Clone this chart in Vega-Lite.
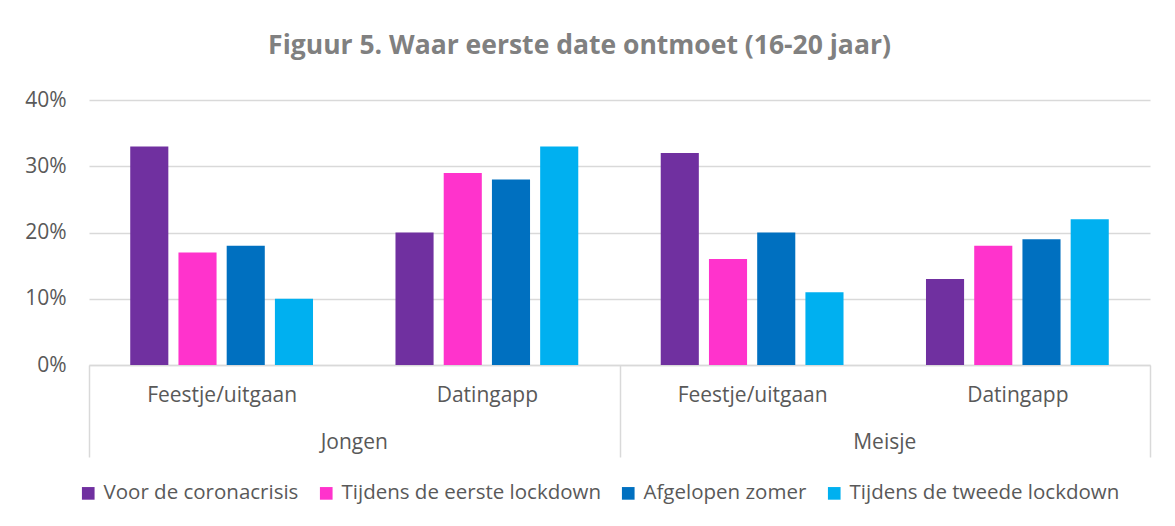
{
  "$schema": "https://vega.github.io/schema/vega-lite/v6.json",
  "width": 1061,
  "height": 265,
  "autosize": {"type": "none"},
  "padding": {"left": 89, "top": 100, "right": 25, "bottom": 161},
  "background": "white",
  "title": {
    "text": "Figuur 5. Waar eerste date ontmoet (16-20 jaar)",
    "fontSize": 26.5,
    "fontWeight": "bold",
    "color": "#808080",
    "font": "Open Sans",
    "anchor": "middle",
    "dx": -40,
    "offset": 30
  },
  "config": {
    "font": "Open Sans",
    "view": {"stroke": null}
  },
  "data": {
    "values": [
      {"group": "Jongen", "cat": "Feestje/uitgaan", "key": "Jongen|Feestje/uitgaan", "series": "Voor de coronacrisis", "value": 0.33},
      {"group": "Jongen", "cat": "Feestje/uitgaan", "key": "Jongen|Feestje/uitgaan", "series": "Tijdens de eerste lockdown", "value": 0.17},
      {"group": "Jongen", "cat": "Feestje/uitgaan", "key": "Jongen|Feestje/uitgaan", "series": "Afgelopen zomer", "value": 0.18},
      {"group": "Jongen", "cat": "Feestje/uitgaan", "key": "Jongen|Feestje/uitgaan", "series": "Tijdens de tweede lockdown", "value": 0.10},
      {"group": "Jongen", "cat": "Datingapp", "key": "Jongen|Datingapp", "series": "Voor de coronacrisis", "value": 0.20},
      {"group": "Jongen", "cat": "Datingapp", "key": "Jongen|Datingapp", "series": "Tijdens de eerste lockdown", "value": 0.29},
      {"group": "Jongen", "cat": "Datingapp", "key": "Jongen|Datingapp", "series": "Afgelopen zomer", "value": 0.28},
      {"group": "Jongen", "cat": "Datingapp", "key": "Jongen|Datingapp", "series": "Tijdens de tweede lockdown", "value": 0.33},
      {"group": "Meisje", "cat": "Feestje/uitgaan", "key": "Meisje|Feestje/uitgaan", "series": "Voor de coronacrisis", "value": 0.32},
      {"group": "Meisje", "cat": "Feestje/uitgaan", "key": "Meisje|Feestje/uitgaan", "series": "Tijdens de eerste lockdown", "value": 0.16},
      {"group": "Meisje", "cat": "Feestje/uitgaan", "key": "Meisje|Feestje/uitgaan", "series": "Afgelopen zomer", "value": 0.20},
      {"group": "Meisje", "cat": "Feestje/uitgaan", "key": "Meisje|Feestje/uitgaan", "series": "Tijdens de tweede lockdown", "value": 0.11},
      {"group": "Meisje", "cat": "Datingapp", "key": "Meisje|Datingapp", "series": "Voor de coronacrisis", "value": 0.13},
      {"group": "Meisje", "cat": "Datingapp", "key": "Meisje|Datingapp", "series": "Tijdens de eerste lockdown", "value": 0.18},
      {"group": "Meisje", "cat": "Datingapp", "key": "Meisje|Datingapp", "series": "Afgelopen zomer", "value": 0.19},
      {"group": "Meisje", "cat": "Datingapp", "key": "Meisje|Datingapp", "series": "Tijdens de tweede lockdown", "value": 0.22}
    ]
  },
  "layer": [
    {
      "mark": {"type": "bar"},
      "encoding": {
        "x": {
          "field": "key",
          "type": "nominal",
          "sort": ["Jongen|Feestje/uitgaan", "Jongen|Datingapp", "Meisje|Feestje/uitgaan", "Meisje|Datingapp"],
          "scale": {"paddingInner": 0, "paddingOuter": 0},
          "axis": {
            "orient": "bottom",
            "title": null,
            "labelExpr": "split(datum.value, '|')[1]",
            "labelAngle": 0,
            "labelFontSize": 21,
            "labelColor": "#595959",
            "tickBand": "extent",
            "tickSize": 92,
            "tickWidth": 1.5,
            "tickColor": {
              "condition": {"test": "datum.value === 'Jongen|Feestje/uitgaan' || datum.value === 'Meisje|Feestje/uitgaan'", "value": "transparent"},
              "value": "#D9D9D9"
            },
            "domainColor": "#D9D9D9",
            "domainWidth": 1.5,
            "labelPadding": -73,
            "grid": false
          }
        },
        "xOffset": {
          "field": "series",
          "type": "nominal",
          "sort": ["Voor de coronacrisis", "Tijdens de eerste lockdown", "Afgelopen zomer", "Tijdens de tweede lockdown"],
          "scale": {"paddingInner": 0.21, "paddingOuter": 0.855}
        },
        "y": {
          "field": "value",
          "type": "quantitative",
          "scale": {"domain": [0, 0.4]},
          "axis": {
            "title": null,
            "format": ".0%",
            "values": [0, 0.1, 0.2, 0.3, 0.4],
            "grid": true,
            "gridColor": "#D9D9D9",
            "gridWidth": 1.5,
            "domain": false,
            "ticks": false,
            "labelPadding": 23,
            "labelFontSize": 21,
            "labelColor": "#595959"
          }
        },
        "color": {
          "field": "series",
          "type": "nominal",
          "scale": {
            "domain": ["Voor de coronacrisis", "Tijdens de eerste lockdown", "Afgelopen zomer", "Tijdens de tweede lockdown"],
            "range": ["#7030A0", "#FF33CC", "#0070C0", "#00B0F0"]
          },
          "legend": {
            "title": null,
            "orient": "none",
            "direction": "horizontal",
            "legendX": -11,
            "legendY": 383,
            "symbolType": "square",
            "symbolSize": 160,
            "symbolStrokeWidth": 0,
            "symbolOpacity": 1,
            "labelFontSize": 20.5,
            "labelColor": "#595959",
            "labelOffset": 5,
            "columnPadding": 17,
            "labelLimit": 400
          }
        }
      }
    },
    {
      "mark": {"type": "tick", "opacity": 0},
      "encoding": {
        "x": {
          "field": "group",
          "type": "nominal",
          "scale": {"paddingInner": 0, "paddingOuter": 0},
          "axis": {
            "orient": "bottom",
            "title": null,
            "ticks": false,
            "domain": false,
            "grid": false,
            "labelAngle": 0,
            "labelPadding": 66,
            "labelFontSize": 21,
            "labelColor": "#595959"
          }
        },
        "y": {"field": "value", "type": "quantitative"}
      }
    }
  ],
  "resolve": {"scale": {"x": "independent"}}
}
